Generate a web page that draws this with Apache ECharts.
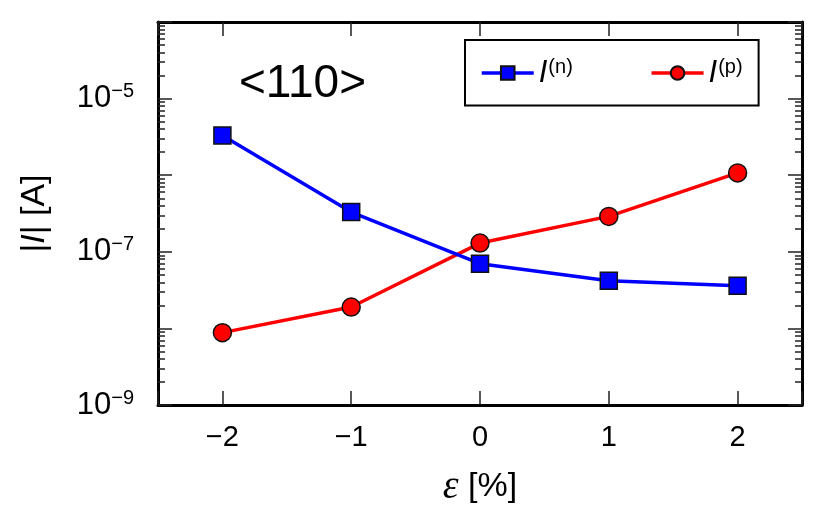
<!DOCTYPE html>
<html>
<head>
<meta charset="utf-8">
<script src="https://cdn.jsdelivr.net/npm/echarts@6/dist/echarts.min.js"></script>
<style>
  html, body { margin: 0; padding: 0; background: #fff; }
  #main { width: 830px; height: 512px; }
</style>
</head>
<body>
<div id="main"></div>
<script>
// strain in %, current magnitude in A
var strain   = [-2, -1, 0, 1, 2];
var currentN = [3.3e-6, 3.3e-7, 7.0e-8, 4.2e-8, 3.6e-8];
var currentP = [8.8e-9, 1.9e-8, 1.3e-7, 2.9e-7, 1.07e-6];
var labelExps = [-9, -7, -5];

var dom   = document.getElementById("main");
var chart = echarts.init(dom);

var font = "'Liberation Sans', Arial, sans-serif";

function pairs(ys) {
    var out = [];
    for (var i in strain) {
        out[i] = [strain[i], ys[i]];
    }
    return out;
}

function xLabel(v) {
    if (Math.abs(v - Math.round(v)) > 1e-6) return '';
    return v < 0 ? '\u2212' + Math.abs(v) : String(v);
}

function yLabel(v) {
    var e = Math.round(Math.log(v) / Math.LN10);
    if (labelExps.indexOf(e) < 0) return '';
    return '{b|10}{s|\u2212' + (-e) + '}';
}

var axisLine = { show: true, onZero: false, lineStyle: { color: '#000', width: 3 } };
var tick     = { show: true, inside: true, length: 14, lineStyle: { color: '#222', width: 1.5 } };
var minor    = { show: true, splitNumber: 9, length: 7, lineStyle: { color: '#222', width: 1.5 } };

option = {
    animation: false,
    title: {
        text: '<110>',
        left: 234,
        top: 56,
        textStyle: { fontFamily: font, fontSize: 46, fontWeight: 'normal', color: '#000' }
    },
    legend: {
        left: 465,
        top: 40,
        padding: [17, 16, 17, 15],
        itemGap: 77,
        itemWidth: 52,
        itemHeight: 17,
        backgroundColor: '#fff',
        borderColor: '#000',
        borderWidth: 2,
        borderRadius: 0,
        lineStyle: { width: 3.5 },
        data: ['n', 'p'],
        formatter: function (name) {
            return '{i|I}{s|(' + name + ')}';
        },
        textStyle: {
            rich: {
                i: { fontFamily: font, fontStyle: 'italic', fontSize: 31, color: '#000' },
                s: { fontFamily: font, fontSize: 20, color: '#000', verticalAlign: 'top', padding: [0, 0, 12, 1] }
            }
        }
    },
    grid: {
        left: 158,
        right: 28,
        top: 22,
        bottom: 102
    },
    xAxis: [
        {
            type: 'value',
            min: -2.5,
            max: 2.5,
            splitNumber: 5,
            name: '{e|\u03b5}{t| [%]}',
            nameLocation: 'middle',
            nameGap: 62,
            nameTextStyle: {
                rich: {
                    e: { fontFamily: "'Liberation Serif', serif", fontStyle: 'italic', fontSize: 40, color: '#000' },
                    t: { fontFamily: font, fontSize: 34, color: '#000' }
                }
            },
            axisLine: axisLine,
            axisTick: tick,
            splitLine: { show: false },
            axisLabel: {
                margin: 18,
                fontFamily: font,
                fontSize: 29,
                color: '#000',
                formatter: xLabel
            }
        },
        {
            type: 'value',
            position: 'top',
            min: -2.5,
            max: 2.5,
            splitNumber: 5,
            axisLine: axisLine,
            axisTick: tick,
            splitLine: { show: false },
            axisLabel: { show: false }
        }
    ],
    yAxis: [
        {
            type: 'log',
            logBase: 10,
            min: 1e-9,
            max: 1e-4,
            name: '{p||}{i|I}{p|| [A]}',
            nameLocation: 'middle',
            nameRotate: 90,
            nameGap: 106,
            nameTextStyle: {
                rich: {
                    p: { fontFamily: font, fontSize: 34, color: '#000' },
                    i: { fontFamily: font, fontStyle: 'italic', fontSize: 34, color: '#000' }
                }
            },
            axisLine: axisLine,
            axisTick: tick,
            minorTick: minor,
            splitLine: { show: false },
            axisLabel: {
                margin: 24,
                formatter: yLabel,
                rich: {
                    b: { fontFamily: font, fontSize: 31, color: '#000' },
                    s: { fontFamily: font, fontSize: 20, color: '#000', verticalAlign: 'top', padding: [0, 0, 14, 0] }
                }
            }
        },
        {
            type: 'log',
            logBase: 10,
            position: 'right',
            min: 1e-9,
            max: 1e-4,
            axisLine: axisLine,
            axisTick: tick,
            minorTick: minor,
            splitLine: { show: false },
            axisLabel: { show: false }
        }
    ],
    series: [
        {
            name: 'n',
            type: 'line',
            data: pairs(currentN),
            symbol: 'rect',
            symbolSize: 17,
            lineStyle: { color: '#0000ff', width: 3.5 },
            itemStyle: { color: '#0000ff', borderColor: '#111', borderWidth: 1.5 },
            z: 3
        },
        {
            name: 'p',
            type: 'line',
            data: pairs(currentP),
            symbol: 'circle',
            symbolSize: 18,
            lineStyle: { color: '#ff0000', width: 3.5 },
            itemStyle: { color: '#ff0000', borderColor: '#111', borderWidth: 1.5 },
            z: 2
        }
    ]
};

chart.setOption(option, true);
</script>
</body>
</html>
